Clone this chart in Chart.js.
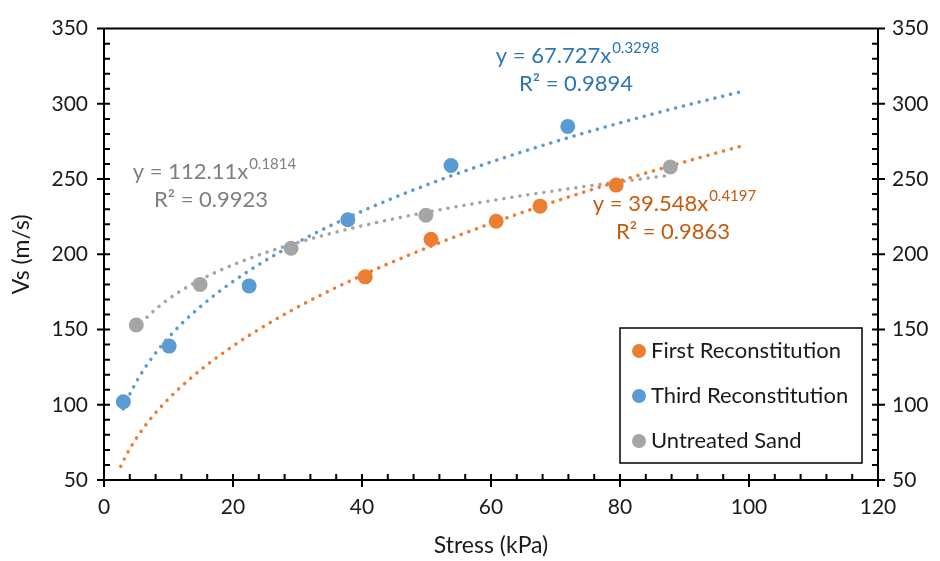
<!DOCTYPE html>
<html>
<head>
<meta charset="utf-8">
<script src="https://cdn.jsdelivr.net/npm/chart.js@4.4.1/dist/chart.umd.min.js"></script>
<style>
  body { margin: 0; background: #fff; }
  #wrap { width: 940px; height: 561px; }
</style>
</head>
<body>
<div id="wrap"><canvas id="myChart" width="940" height="561"></canvas></div>
<script>
// measured points, stress (kPa) vs shear wave velocity (m/s)
var firstX = [40.5, 50.7, 60.8, 67.6, 79.4];
var firstY = [185, 210, 222, 232, 246];
var thirdX = [3, 10.1, 22.5, 37.8, 53.8, 71.9];
var thirdY = [102, 139, 179, 223, 259, 285];
var sandX = [5, 14.9, 29, 49.9, 87.8];
var sandY = [153, 180, 204, 226, 258];

// power trendlines y = a * x^b
var names = ['First Reconstitution', 'Third Reconstitution', 'Untreated Sand'];
var coefA = [39.548, 67.727, 112.11];
var coefB = [0.4197, 0.3298, 0.1814];
var rSquared = ['0.9863', '0.9894', '0.9923'];
var trendFrom = [2.6, 3, 5];
var trendTo = [99, 99, 88];

var markerColors = ['#ED7D31', '#5B9BD5', '#A5A5A5'];
var textColors = ['#C55A11', '#2E75B6', '#7F7F7F'];

var FONT = 'Lato, "Open Sans", sans-serif';

function pts(xs, ys) {
    return xs.map(function (x, i) { return { x: x, y: ys[i] }; });
}

function trend(k) {
    var out = [];
    for (var x = trendFrom[k]; x < trendTo[k]; x += 0.5) {
        out.push({ x: x, y: coefA[k] * Math.pow(x, coefB[k]) });
    }
    out.push({ x: trendTo[k], y: coefA[k] * Math.pow(trendTo[k], coefB[k]) });
    return out;
}

var pointSets = [pts(firstX, firstY), pts(thirdX, thirdY), pts(sandX, sandY)];

var datasets = [];
pointSets.forEach(function (d, k) {
    datasets.push({
        label: names[k],
        data: d,
        showLine: false,
        pointRadius: 7.5,
        pointBackgroundColor: markerColors[k],
        pointBorderWidth: 0,
        order: 0
    });
});
[0, 1, 2].forEach(function (k) {
    datasets.push({
        label: names[k] + ' trend',
        data: trend(k),
        showLine: true,
        pointRadius: 0,
        borderColor: markerColors[k],
        borderWidth: 3.5,
        borderDash: [0.1, 8],
        borderCapStyle: 'round',
        tension: 0,
        order: 1
    });
});

// frame, tick marks, equations and legend box
var decorPlugin = {
    id: 'decor',
    afterDraw: function (chart) {
        var ctx = chart.ctx;
        var a = chart.chartArea;
        var sx = chart.scales.x, sy = chart.scales.y;
        ctx.save();
        ctx.strokeStyle = '#000';
        ctx.lineWidth = 2;
        ctx.beginPath();
        ctx.moveTo(a.left - 7, a.top); ctx.lineTo(a.right + 7, a.top);
        ctx.moveTo(a.left, a.top); ctx.lineTo(a.left, a.bottom);
        ctx.moveTo(a.right, a.top); ctx.lineTo(a.right, a.bottom);
        ctx.moveTo(a.left, a.bottom); ctx.lineTo(a.right, a.bottom);
        // x ticks: majors every 20, minors every 4
        for (var v = 0; v <= 120; v += 4) {
            var px = sx.getPixelForValue(v);
            if (v % 20 === 0) { ctx.moveTo(px, a.bottom - 6); ctx.lineTo(px, a.bottom + 7); }
            else { ctx.moveTo(px, a.bottom); ctx.lineTo(px, a.bottom - 6); }
        }
        // y ticks on both sides: majors every 50, minors every 10
        for (var w = 50; w <= 350; w += 10) {
            var py = sy.getPixelForValue(w);
            if (w % 50 === 0) {
                ctx.moveTo(a.left - 7, py); ctx.lineTo(a.left + 6, py);
                ctx.moveTo(a.right - 6, py); ctx.lineTo(a.right + 7, py);
            } else {
                ctx.moveTo(a.left, py); ctx.lineTo(a.left + 6, py);
                ctx.moveTo(a.right, py); ctx.lineTo(a.right - 6, py);
            }
        }
        ctx.stroke();

        // trendline equations
        function eq(k, cx, cy, rx) {
            var main = 'y = ' + coefA[k] + 'x';
            var sup = String(coefB[k]);
            ctx.font = '22px ' + FONT;
            var w1 = ctx.measureText(main).width;
            ctx.font = '15px ' + FONT;
            var w2 = ctx.measureText(sup).width;
            var x0 = cx - (w1 + w2) / 2;
            ctx.fillStyle = textColors[k];
            ctx.textBaseline = 'middle';
            ctx.textAlign = 'left';
            ctx.font = '22px ' + FONT;
            ctx.fillText(main, x0, cy);
            ctx.font = '15px ' + FONT;
            ctx.fillText(sup, x0 + w1 + 1, cy - 8);
            ctx.font = '22px ' + FONT;
            ctx.textAlign = 'center';
            ctx.fillText('R² = ' + rSquared[k], rx, cy + 28);
        }
        eq(1, 577, 56, 576);
        eq(2, 214, 172, 211);
        eq(0, 674, 204, 673);

        // legend
        ctx.lineWidth = 1.5;
        ctx.strokeStyle = '#000';
        ctx.fillStyle = '#fff';
        ctx.fillRect(620, 328, 242, 135);
        ctx.strokeRect(620, 328, 242, 135);
        names.forEach(function (n, k) {
            var yy = 351 + k * 45;
            ctx.beginPath();
            ctx.fillStyle = markerColors[k];
            ctx.arc(639, yy, 7, 0, Math.PI * 2);
            ctx.fill();
            ctx.fillStyle = '#1a1a1a';
            ctx.font = '22px ' + FONT;
            ctx.textAlign = 'left';
            ctx.textBaseline = 'middle';
            ctx.fillText(n, 651, yy);
        });
        ctx.restore();
    }
};

var tickFont = { family: FONT, size: 21 };

new Chart(document.getElementById('myChart'), {
    type: 'scatter',
    data: { datasets: datasets },
    options: {
        responsive: false,
        animation: false,
        layout: { padding: { top: 17, left: 0, right: 0, bottom: 0 } },
        plugins: { legend: { display: false }, tooltip: { enabled: false } },
        scales: {
            x: {
                type: 'linear', min: 0, max: 120,
                grid: { display: false, drawTicks: false },
                border: { display: false },
                ticks: { stepSize: 20, padding: 15, color: '#1a1a1a', font: tickFont },
                title: { display: true, text: 'Stress (kPa)', color: '#1a1a1a', font: { family: FONT, size: 23 }, padding: { top: 0, bottom: 2 } },
                afterFit: function (s) { s.height = 81; }
            },
            y: {
                type: 'linear', position: 'left', min: 50, max: 350,
                grid: { display: false, drawTicks: false },
                border: { display: false },
                ticks: { stepSize: 50, padding: 16, color: '#1a1a1a', font: tickFont },
                title: { display: true, text: 'Vs (m/s)', color: '#1a1a1a', font: { family: FONT, size: 23 }, padding: { top: 8, bottom: 0 } },
                afterFit: function (s) { s.width = 104; }
            },
            y2: {
                type: 'linear', position: 'right', min: 50, max: 350,
                grid: { display: false, drawTicks: false },
                border: { display: false },
                ticks: { stepSize: 50, padding: 14, color: '#1a1a1a', font: tickFont },
                afterFit: function (s) { s.width = 62; }
            }
        }
    },
    plugins: [decorPlugin]
});
</script>
</body>
</html>
